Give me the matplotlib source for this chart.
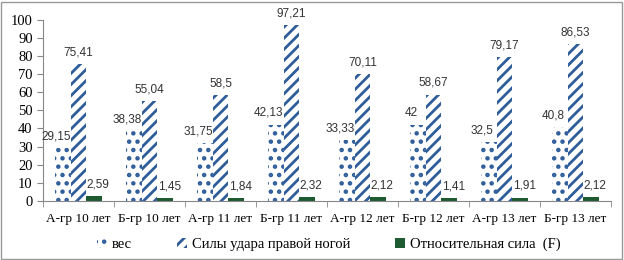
import matplotlib
matplotlib.use("Agg")
import matplotlib.pyplot as plt
from matplotlib.patches import Rectangle
import numpy as np

categories = ["А-гр 10 лет", "Б-гр 10 лет", "А-гр 11 лет", "Б-гр 11 лет",
              "А-гр 12 лет", "Б-гр 12 лет", "А-гр 13 лет", "Б-гр 13 лет"]
ves = [29.15, 38.38, 31.75, 42.13, 33.33, 42, 32.5, 40.8]
sila = [75.41, 55.04, 58.5, 97.21, 70.11, 58.67, 79.17, 86.53]
otn = [2.59, 1.45, 1.84, 2.32, 2.12, 1.41, 1.91, 2.12]
series_names = ["вес", "Силы удара правой ногой", "Относительная сила  (F)"]

ves_lbl = ["29,15", "38,38", "31,75", "42,13", "33,33", "42", "32,5", "40,8"]
sila_lbl = ["75,41", "55,04", "58,5", "97,21", "70,11", "58,67", "79,17", "86,53"]
otn_lbl = ["2,59", "1,45", "1,84", "2,32", "2,12", "1,41", "1,91", "2,12"]

blue = "#2F5D9A"
green = "#1E5A30"
plt.rcParams['hatch.linewidth'] = 2.0

fig = plt.figure(figsize=(6.24, 2.6), dpi=100)
ax = fig.add_axes([0.069, 0.227, 0.91, 0.698])

x = np.arange(len(categories))
w = 0.22
b1 = ax.bar(x - w, ves, w, facecolor="white", edgecolor=blue, hatch="..", linewidth=0)
b2 = ax.bar(x, sila, w, facecolor="white", edgecolor=blue, hatch="///", linewidth=0)
b3 = ax.bar(x + w, otn, w, color=green, linewidth=0)

lblfont = dict(family="Liberation Sans", fontsize=8.5, color="#333333")
for i in range(len(x)):
    ax.annotate(ves_lbl[i], (x[i] - w, ves[i]), xytext=(-5, 4), textcoords="offset points",
                ha="center", va="bottom", **lblfont)
    ax.annotate(sila_lbl[i], (x[i], sila[i]), xytext=(0, 4), textcoords="offset points",
                ha="center", va="bottom", **lblfont)
    ax.annotate(otn_lbl[i], (x[i] + w, otn[i]), xytext=(3, 4), textcoords="offset points",
                ha="center", va="bottom", **lblfont)

ax.set_xlim(-0.5, len(x) - 0.5)
ax.set_ylim(0, 100)
ax.set_yticks(np.arange(0, 101, 10))
ax.set_xticks(x)
ax.set_xticklabels(categories, family="Liberation Serif", fontsize=9.5)
ax.set_xticks(np.arange(-0.5, len(x), 1), minor=True)
ax.tick_params(axis="x", which="major", length=0, pad=9)
ax.tick_params(axis="x", which="minor", length=4, color="#888888")
ax.tick_params(axis="y", length=4, color="#888888", labelsize=10.5)
for lab in ax.get_yticklabels():
    lab.set_family("Liberation Serif")
for s in ["top", "right"]:
    ax.spines[s].set_visible(False)
for s in ["left", "bottom"]:
    ax.spines[s].set_color("#888888")

leg = fig.legend([b1, b2, b3], series_names, loc="center", bbox_to_anchor=(0.527, 0.06),
                 ncol=3, frameon=False, handlelength=0.7, handleheight=0.7,
                 handletextpad=0.3, columnspacing=3.1,
                 prop=dict(family="Liberation Serif", size=10.5))

fig.patches.append(Rectangle((0.002, 0.004), 0.995, 0.99, transform=fig.transFigure,
                             fill=False, edgecolor="#999999", linewidth=1))

fig.savefig("out.png", dpi=100)
